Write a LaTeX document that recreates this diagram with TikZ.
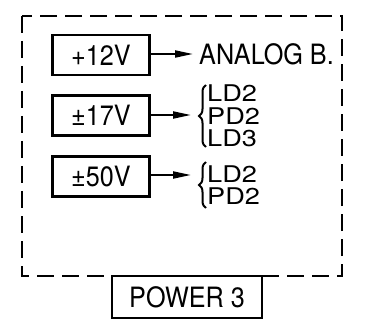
\documentclass[tikz,border=0pt]{standalone}
\usepackage{fontspec}
\setmainfont[FakeStretch=0.9]{TeX Gyre Heros}
\newfontfamily\widefont[FakeStretch=1.18]{TeX Gyre Heros}
\usetikzlibrary{arrows.meta,decorations.pathreplacing}
\tikzset{
  vbox/.style={draw, line width=2.2pt, minimum width=97pt, minimum height=40pt, inner sep=0pt, font=\fontsize{28}{28}\selectfont},
  conn/.style={line width=2pt, -{Triangle[length=18pt,width=7pt]}},
  lbl/.style={inner sep=0pt, font=\fontsize{28}{28}\selectfont},
  list/.style={inner sep=0pt, align=left, font=\widefont\fontsize{23}{22.5}\selectfont},
  brc/.style={line width=2pt, decorate, decoration={brace, amplitude=7pt}},
  frame/.style={line width=2.4pt, dash pattern=on 17pt off 8pt},
}
\begin{document}
\begin{tikzpicture}[x=1pt,y=-1pt]
\useasboundingbox (0,0) rectangle (367,326);
\draw[frame] (22,16) rectangle (342,276);
\node[vbox] (b12) at (101,55) {+12V};
\node[vbox] (b17) at (101,115.5) {±17V};
\node[vbox] (b50) at (101,176.5) {±50V};
\node[lbl, anchor=west] (ana) at (199,54) {ANALOG B.};
\node[list, anchor=west] (l17) at (207,116) {LD2\\PD2\\LD3};
\node[list, anchor=west] (l50) at (207,185) {LD2\\PD2};
\draw[brc] (206,147) -- (206,85);
\draw[brc] (206,208) -- (206,162);
\coordinate (t17) at (191,115);
\coordinate (t50) at (191,175);
\coordinate (t12) at (193,54);
\draw[conn] (b12.east |- t12) -- (t12);
\draw[conn] (b17.east |- t17) -- (t17);
\draw[conn] (b50.east |- t50) -- (t50);
\node[draw, line width=2.2pt, minimum width=150pt, minimum height=42pt, inner sep=0pt, font=\fontsize{28}{28}\selectfont, fill=white] (pw) at (187,297) {POWER 3};
\end{tikzpicture}
\end{document}
